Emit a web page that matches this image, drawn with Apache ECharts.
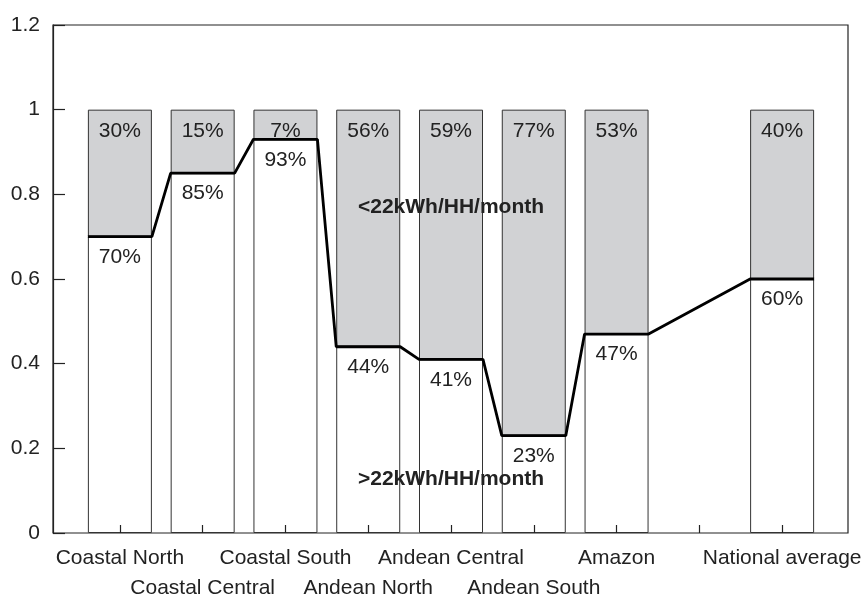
<!DOCTYPE html>
<html>
<head>
<meta charset="utf-8">
<script src="https://cdn.jsdelivr.net/npm/echarts@6/dist/echarts.min.js"></script>
<style>
  html, body { margin: 0; padding: 0; background: #fff; }
  #chart { width: 865px; height: 598px; }
</style>
</head>
<body>
<div id="chart"></div>
<script>
// regions, with an empty slot before the national average
const categories = ['Coastal North', 'Coastal Central', 'Coastal South', 'Andean North',
  'Andean Central', 'Andean South', 'Amazon', '', 'National average']
// 1 = label drawn on the second row
const labelRow = [0, 1, 0, 1, 0, 1, 0, 0, 0]
// share of households above 22kWh/HH/month (%)
const below = [70, 85, 93, 44, 41, 23, 47, null, 60]
// share below 22kWh/HH/month (%)
const above = [30, 15, 7, 56, 59, 77, 53, null, 40]
const yTicks = [0, 0.2, 0.4, 0.6, 0.8, 1, 1.2]

const FONT = 'Liberation Sans, Arial, sans-serif'
const FS = 21
const barPx = 64
const bandPx = 745 / categories.length
const half = barPx / 2 / bandPx

// step line: flat across each bar, sloped between bars
const stepLine = []
below.forEach((v, i) => {
  if (v == null) return
  stepLine.push([i - half, v / 100])
  stepLine.push([i + half, v / 100])
})

const chart = echarts.init(document.getElementById('chart'))
chart.setOption({
  animation: false,
  textStyle: { fontFamily: FONT },
  grid: [
    { left: 53, right: 17, top: 25, bottom: 65, outerBoundsMode: 'none',
      show: true, borderColor: '#222', borderWidth: 1.2 },
    { left: 78.5, right: 41.5, top: 25, bottom: 65, outerBoundsMode: 'none' }
  ],
  xAxis: [
    { type: 'value', gridIndex: 0, show: false, min: 0, max: 1 },
    {
      type: 'category', gridIndex: 1, data: categories, z: 4,
      axisLine: { show: false },
      axisTick: { show: true, inside: true, alignWithLabel: true, length: 8, lineStyle: { color: '#222', width: 1.2 } },
      axisLabel: {
        interval: 0, color: '#222', fontSize: FS, fontFamily: FONT, margin: 10, lineHeight: 30,
        formatter: (v, i) => labelRow[i] ? '\n' + v : v
      }
    },
    { type: 'value', gridIndex: 1, show: false, min: -0.5, max: 8.5 }
  ],
  yAxis: [
    {
      type: 'value', gridIndex: 0, min: 0, max: 1.2, interval: 0.2,
      axisLine: { show: true, lineStyle: { color: '#222', width: 1.2 } },
      axisTick: { show: true, inside: true, length: 12, lineStyle: { color: '#222', width: 1.2 } },
      axisLabel: { color: '#222', fontSize: FS, fontFamily: FONT, margin: 13,
        formatter: v => String(yTicks.find(t => Math.abs(t - v) < 1e-6) ?? v) },
      splitLine: { show: false }
    },
    { type: 'value', gridIndex: 1, min: 0, max: 1.2, show: false }
  ],
  series: [
    {
      type: 'bar', xAxisIndex: 1, yAxisIndex: 1, stack: 'all', barWidth: barPx,
      data: below.map(v => v == null ? null : v / 100),
      itemStyle: { color: '#fff', borderColor: '#333', borderWidth: 1 },
      label: { show: true, position: 'insideTop', distance: 10, color: '#222', fontSize: FS, fontFamily: FONT,
        formatter: p => below[p.dataIndex] + '%' }
    },
    {
      type: 'bar', xAxisIndex: 1, yAxisIndex: 1, stack: 'all', barWidth: barPx,
      data: above.map(v => v == null ? null : v / 100),
      itemStyle: { color: '#d1d2d4', borderColor: '#333', borderWidth: 1 },
      label: { show: true, position: 'insideTop', distance: 11, color: '#222', fontSize: FS, fontFamily: FONT,
        formatter: p => above[p.dataIndex] + '%' }
    },
    {
      type: 'line', xAxisIndex: 2, yAxisIndex: 1, data: stepLine, showSymbol: false, symbol: 'none',
      lineStyle: { color: '#000', width: 2.8 }, z: 5
    }
  ],
  graphic: [
    { type: 'text', x: 451, y: 207, z: 10,
      style: { text: '<22kWh/HH/month', fill: '#222', font: 'bold ' + FS + 'px ' + FONT, textAlign: 'center', textVerticalAlign: 'middle' } },
    { type: 'text', x: 451, y: 479, z: 10,
      style: { text: '>22kWh/HH/month', fill: '#222', font: 'bold ' + FS + 'px ' + FONT, textAlign: 'center', textVerticalAlign: 'middle' } }
  ]
})
</script>
</body>
</html>
